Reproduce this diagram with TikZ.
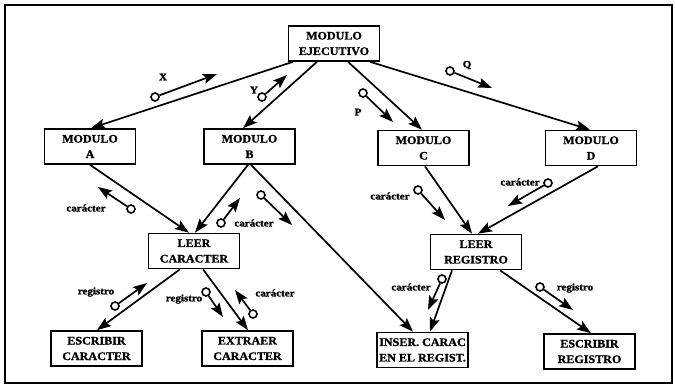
\documentclass[tikz,border=0pt]{standalone}
\usepackage{fontspec}
\setmainfont{Liberation Serif}
\newfontfamily\lblfont[FakeStretch=1.1,FakeBold=1.5]{Liberation Serif}
\newfontfamily\boxfont[FakeStretch=1.05,FakeBold=1.2]{Liberation Serif}
\usetikzlibrary{arrows.meta,calc}
\begin{document}
\begin{tikzpicture}[x=1pt,y=-1pt,
  box/.style={draw,line width=1.6pt,minimum width=91pt,minimum height=35pt,inner sep=0pt,
    align=center,font=\boxfont\fontsize{11.5}{15.5}\selectfont\bfseries},
  conn/.style={line width=1.7pt,-{Stealth[length=14pt,width=10pt,inset=2.5pt]}},
  cpl/.style={draw,circle,line width=1.6pt,minimum size=8pt,inner sep=0pt},
  cplar/.style={line width=1.7pt,-{Stealth[length=14pt,width=10pt,inset=2.5pt]}},
  lbl/.style={font=\lblfont\fontsize{10}{11}\selectfont\bfseries,inner sep=0pt}]
\useasboundingbox (0,0) rectangle (675,388);
\draw[line width=1.5pt] (5,5) rectangle (672,383);
% boxes
\node[box] (ej) at (334,43.5) {MODULO\\EJECUTIVO};
\node[box] (a) at (90,146.5) {MODULO\\A};
\node[box] (b) at (249.5,146.5) {MODULO\\B};
\node[box] (c) at (423.5,148) {MODULO\\C};
\node[box] (d) at (591,148) {MODULO\\D};
\node[box] (lc) at (194,251) {LEER\\CARACTER};
\node[box] (lr) at (476,252) {LEER\\REGISTRO};
\node[box] (ec) at (96.5,348.5) {ESCRIBIR\\CARACTER};
\node[box] (ex) at (247.5,348.5) {EXTRAER\\CARACTER};
\node[box] (in) at (422.5,350) {INSER. CARAC\\EN EL REGIST.};
\node[box] (er) at (589.5,351.5) {ESCRIBIR\\REGISTRO};
% connectors
\draw[conn] ([xshift=-41pt]ej.south) -- ([xshift=1pt]a.north);
\draw[conn] ([xshift=-17pt]ej.south) -- ([xshift=-6.5pt]b.north);
\draw[conn] ([xshift=14pt]ej.south) -- ([xshift=-1.5pt]c.north);
\draw[conn] ([xshift=36pt]ej.south) -- ([xshift=-1pt]d.north);
\draw[conn] ([xshift=0pt]a.south) -- ([xshift=-5pt]lc.north);
\draw[conn] ([xshift=-1.5pt]b.south) -- ([xshift=1pt]lc.north);
\draw[conn] ([xshift=1.5pt]b.south) -- ([xshift=-9.5pt]in.north);
\draw[conn] ([xshift=1.5pt]c.south) -- ([xshift=-4pt]lr.north);
\draw[conn] ([xshift=7pt]d.south) -- ([xshift=2pt]lr.north);
\draw[conn] ([xshift=-14pt]lc.south) -- ([xshift=0.5pt]ec.north);
\draw[conn] ([xshift=9pt]lc.south) -- ([xshift=0.5pt]ex.north);
\draw[conn] ([xshift=-24pt]lr.south) -- ([xshift=7.5pt]in.north);
\draw[conn] ([xshift=24pt]lr.south) -- ([xshift=1.5pt]er.north);
% data couples
\node[cpl] (x1) at (155,97) {};  \coordinate (x1t) at (217,74);
\node[cpl] (y1) at (262,97) {};  \coordinate (y1t) at (287,75);
\node[cpl] (q1) at (450,71) {};  \coordinate (q1t) at (492,88);
\node[cpl] (p1) at (363,93) {};  \coordinate (p1t) at (393,122);
\node[cpl] (k1) at (131,209) {}; \coordinate (k1t) at (98,187);
\node[cpl] (k2) at (221,223) {}; \coordinate (k2t) at (240,198);
\node[cpl] (k3) at (261,195) {}; \coordinate (k3t) at (292,225);
\node[cpl] (r1) at (115,306) {}; \coordinate (r1t) at (147,283);
\node[cpl] (r2) at (206,292) {}; \coordinate (r2t) at (223,317);
\node[cpl] (k4) at (253,314) {}; \coordinate (k4t) at (235,290);
\node[cpl] (k5) at (418,190) {}; \coordinate (k5t) at (445,220);
\node[cpl] (k6) at (548,183) {}; \coordinate (k6t) at (508,206);
\node[cpl] (k7) at (442,279) {}; \coordinate (k7t) at (428,310);
\node[cpl] (r3) at (540,287) {}; \coordinate (r3t) at (573,310);
\foreach \n in {x1,y1,q1,p1,k1,k2,k3,r1,r2,k4,k5,k6,k7,r3}
  \draw[cplar] (\n) -- (\n t);
% labels
\node[lbl] (lx) at (163,77) {X};
\node[lbl] (ly) at (254,90) {Y};
\node[lbl] (lq) at (467,65) {Q};
\node[lbl] (lp) at (358,112) {P};
\node[lbl] (t1) at (86,208) {carácter};
\node[lbl] (t2) at (254,223) {carácter};
\node[lbl] (t3) at (96,292) {registro};
\node[lbl] (t4) at (184,299) {registro};
\node[lbl] (t5) at (275,293) {carácter};
\node[lbl] (t6) at (390,196) {carácter};
\node[lbl] (t7) at (520,182) {carácter};
\node[lbl] (t8) at (411,287) {carácter};
\node[lbl] (t9) at (575,288) {registro};
\end{tikzpicture}
\end{document}
